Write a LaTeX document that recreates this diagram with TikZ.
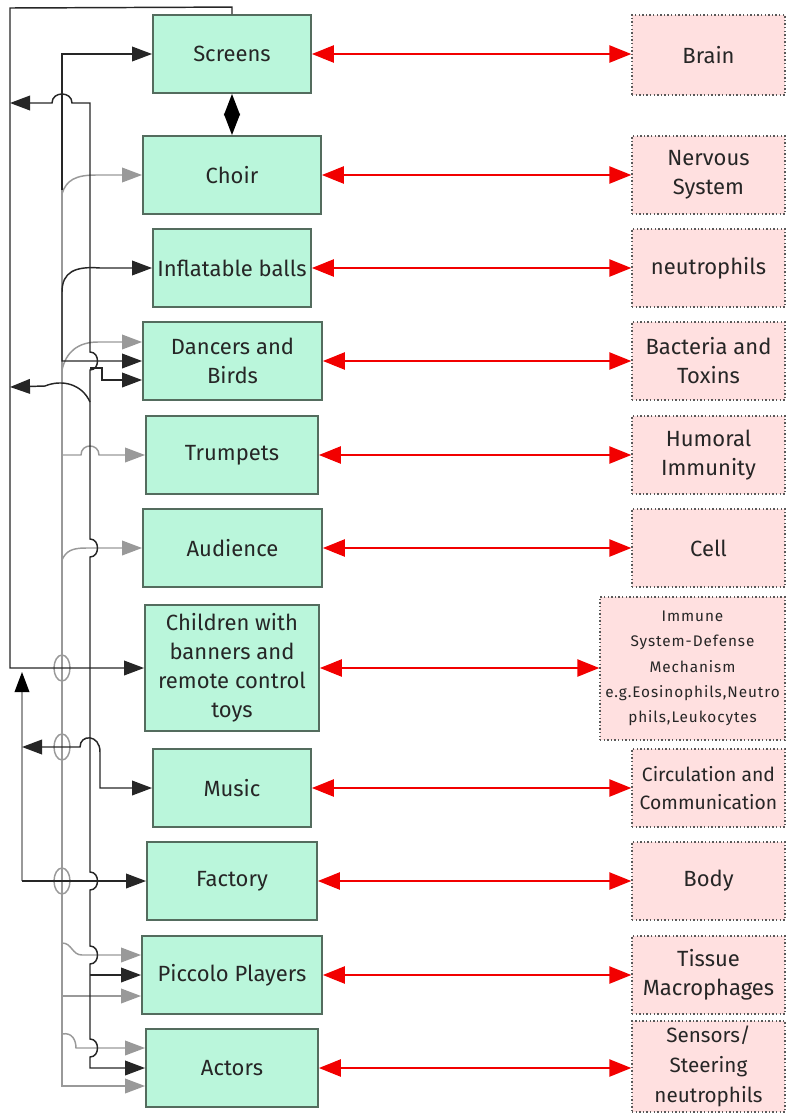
\documentclass[tikz,border=0pt]{standalone}
\usepackage{fontspec}
\setmainfont{Fira Sans}
\usetikzlibrary{arrows.meta}

\definecolor{mint}{RGB}{186,246,219}
\definecolor{mintline}{RGB}{84,108,94}
\definecolor{blush}{RGB}{255,224,224}

\begin{document}
\begin{tikzpicture}[x=0.75pt,y=-0.75pt,
% Box styles
    act/.style={rectangle,draw=mintline,line width=1.4pt,fill=mint,
		text=black!85,font=\fontsize{16.5}{21.75}\selectfont,align=center,
		minimum height=58.5pt,inner sep=0pt},
    organ/.style={rectangle,draw=black!65,line width=1.1pt,
		dash pattern=on 1.1pt off 1.6pt,fill=blush,text=black!85,
		font=\fontsize{16.5}{21.75}\selectfont,align=center,
		minimum width=114.75pt,minimum height=58.5pt,inner sep=0pt},
% Connector styles
    >={Triangle[length=15pt,width=11pt]},
    link/.style={draw=red!95!black,line width=1.1pt,
		>={Triangle[length=16.5pt,width=13pt]},<->},
    wire/.style={draw=black!85,line width=1.1pt,->},
    gwire/.style={draw=black!40,line width=1.1pt,->},
    gline/.style={draw=black!40,line width=1.1pt}
    ]
\useasboundingbox (0,0) rectangle (787,1115);

%% Actions of the show
    \node (screens)  [act,minimum width=118.5pt] at (232,54)    {Screens};
    \node (choir)    [act,minimum width=133.5pt] at (232,175)   {Choir};
    \node (balls)    [act,minimum width=118.5pt] at (232,268)   {Inflatable balls};
    \node (dancers)  [act,minimum width=134.25pt] at (232.5,361) {Dancers and\\Birds};
    \node (trumpets) [act,minimum width=129pt]   at (232,455)   {Trumpets};
    \node (audience) [act,minimum width=134.25pt] at (232.5,548) {Audience};
    \node (children) [act,minimum width=130.5pt,minimum height=94.5pt]
		at (232,668) {Children with\\banners and\\remote control\\toys};
    \node (music)    [act,minimum width=118.5pt] at (232,788)   {Music};
    \node (factory)  [act,minimum width=127.5pt] at (232,881)   {Factory};
    \node (piccolo)  [act,minimum width=135pt]   at (232,975)   {Piccolo Players};
    \node (actors)   [act,minimum width=129pt]   at (232,1068)  {Actors};

%% Parts of the body
    \node (brain)    [organ,minimum height=60pt] at (708.5,55) {Brain};
    \node (nervous)  [organ] at (708.5,175) {Nervous\\System};
    \node (neutro)   [organ] at (708.5,268) {neutrophils};
    \node (bacteria) [organ] at (708.5,361) {Bacteria and\\Toxins};
    \node (humoral)  [organ] at (708.5,455) {Humoral\\Immunity};
    \node (cell)     [organ] at (708.5,548) {Cell};
    \node (immune)   [organ,minimum width=138.75pt,minimum height=107.25pt,
		font=\fontsize{11.5}{19}\selectfont\addfontfeatures{LetterSpace=6}]
		at (692.5,668.5)
		{Immune\\System-Defense\\Mechanism\\e.g.Eosinophils,Neutro\\phils,Leukocytes};
    \node (circ)     [organ,font=\fontsize{14.5}{21}\selectfont] at (708.5,788)
		{Circulation and\\Communication};
    \node (body)     [organ] at (708.5,881) {Body};
    \node (tissue)   [organ] at (708.5,975) {Tissue\\Macrophages};
    \node (sensors)  [organ,minimum height=68.25pt,
		font=\fontsize{15.5}{22.5}\selectfont]
		at (708.5,1066.5) {Sensors/\\Steering\\neutrophils};

%% Red links between show and body
    \foreach \a/\b in {screens/brain,choir/nervous,balls/neutro,
		dancers/bacteria,trumpets/humoral,audience/cell,children/immune,
		music/circ,factory/body,piccolo/tissue,actors/sensors}
	\draw[link] (\a.east) -- (\a.east -| \b.west);

    \draw[draw=black,line width=1.1pt,
	>={Triangle[length=16pt,width=12pt]},<->] (screens.south) -- (choir.north);

%% Gray wiring
    \draw[gwire] (62,190) -- (62,1086) -- ([yshift=-13.5pt]actors.west);
    \foreach \y in {668,747,881}
	\draw[gline] (62,\y) ellipse [x radius=8,y radius=13];
    \draw[gwire] (62,194) .. controls (66,180) and (76,175) .. (96,175)
		-- (choir.west);
    \draw[gwire] (62,370) .. controls (66,352) and (78,342) .. (98,342)
		-- ([yshift=14.25pt]dancers.west);
    \draw[gwire] (62,455) -- (81,455) .. controls (81,443) and (99,443)
		.. (99,455) -- (trumpets.west);
    \draw[gwire] (62,560) .. controls (66,551) and (72,548) .. (86,548)
		-- (audience.west);
    \draw[gline] (22,881) -- (22,690);
    \draw[draw=black!40,line width=1.1pt,
	-{Triangle[length=15pt,width=11pt,black]}] (22,700) -- (22,672);
    \draw[gwire] (62,943) .. controls (72,943) and (72,955) .. (82,955)
		-- ([yshift=15pt]piccolo.west);
    \draw[gwire] (62,996) -- ([yshift=-15.75pt]piccolo.west);
    \draw[gwire] (62,1034) .. controls (72,1032) and (76,1040) .. (76,1048)
		-- ([yshift=15pt]actors.west);

%% Black wiring
    \draw[wire] (screens.north) -- ++(0,-7) -- (10,8) -- (10,668)
		-- (children.west);
    \draw[wire] (62,190) -- (62,54) -- (screens.west);
    \draw[wire,<->] (10,103) -- (52,103) .. controls (52,91) and (72,91)
		.. (72,103) -- (90,103)
	-- (90,352) .. controls (100,352) and (100,370) .. (90,370)
	-- (90,539) .. controls (100,539) and (100,557) .. (90,557)
	-- (90,872) .. controls (100,872) and (100,890) .. (90,890)
	-- (90,946) .. controls (100,946) and (100,964) .. (90,964)
	-- (90,1039) .. controls (100,1039) and (100,1057) .. (90,1057)
	-- (90,1068) -- (actors.west);
    \draw[wire,<->] (balls.west) -- (100,268) .. controls (75,266)
		and (62,272) .. (62,292) -- (62,361) -- (dancers.west);
    \draw[wire] (90,368) -- (102,368) -- (102,380)
		-- ([yshift=-14.25pt]dancers.west);
    \draw[wire] (90,402) .. controls (82,384) and (62,379) .. (45,386)
		-- (10,387);
    \draw[wire,<->] (22,747) -- (80,747) .. controls (80,734) and (100,734)
		.. (100,752) -- (100,788) -- (music.west);
    \draw[wire] (22,881) -- (factory.west);
    \draw[wire] (90,975) -- (piccolo.west);

\end{tikzpicture}
\end{document}
